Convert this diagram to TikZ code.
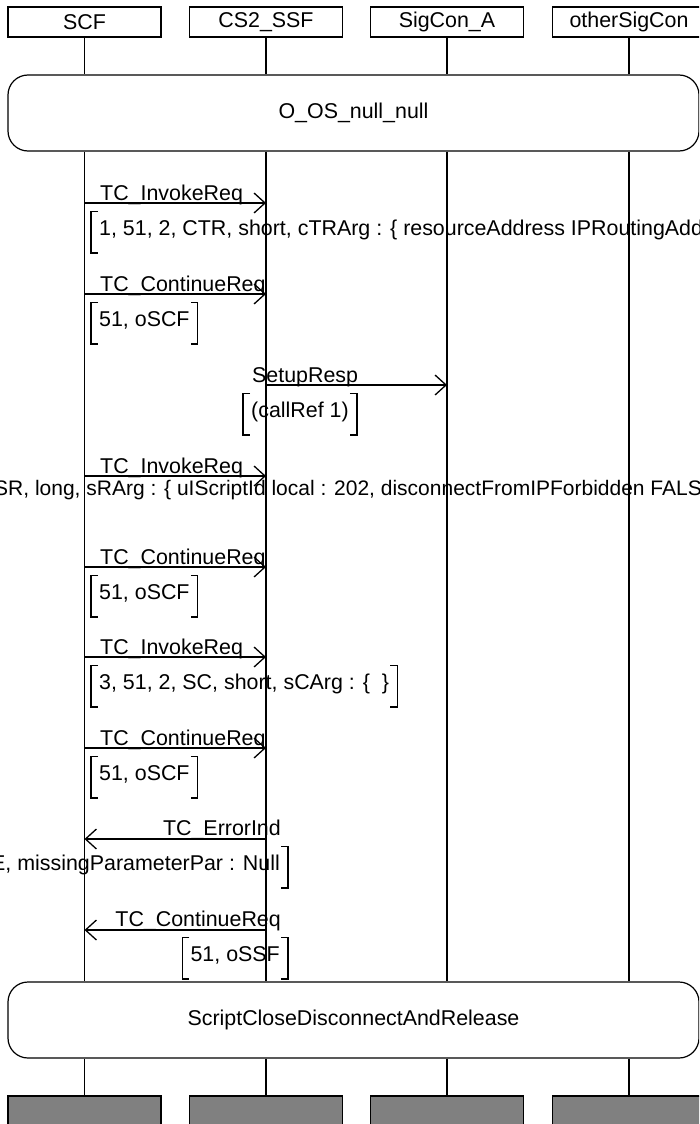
\documentclass[tikz,border=0pt]{standalone}
\usepackage{fontspec}
\setmainfont{Liberation Sans}
\usepackage{tikz}
\usetikzlibrary{arrows.meta}

\newcommand{\brackets}[1]{%
  \draw[line width=1.2pt] ([xshift=7pt]#1.north west) -- (#1.north west) -- (#1.south west) -- ([xshift=7pt]#1.south west);
  \draw[line width=1.2pt] ([xshift=-7pt]#1.north east) -- (#1.north east) -- (#1.south east) -- ([xshift=-7pt]#1.south east);}

\begin{document}
\begin{tikzpicture}[x=1pt,y=-1pt,font=\fontsize{21.4}{25}\selectfont]
\tikzstyle{inst}=[draw,line width=1.2pt,minimum width=153pt,minimum height=30pt,inner sep=0pt]
\tikzstyle{endbox}=[inst,fill=black!50]
\tikzstyle{cond}=[draw,line width=1.2pt,rounded corners=20pt,minimum width=691pt,minimum height=76pt]
\tikzstyle{life}=[line width=1.2pt]
\tikzstyle{msg}=[line width=1.3pt,-{Straight Barb[length=11pt,width=20pt]}]
\tikzstyle{lbl}=[inner sep=0pt]
\tikzstyle{params}=[inner xsep=8pt,inner ysep=0pt,text height=15pt,text depth=9pt,minimum height=41pt]

\useasboundingbox (0,0) rectangle (699,1124);
\clip (0,0) rectangle (699,1124);

\node[inst] (scf) at (84.5,22) {SCF};
\node[inst] (ssf) at (266,22) {CS2\_SSF};
\node[inst] (sca) at (447,22) {SigCon\_A};
\node[inst] (sco) at (629,22) {otherSigCon};

\node[cond] (start) at (353.5,113) {O\_OS\_null\_null};
\node[cond] (close) at (353.5,1020) {ScriptCloseDisconnectAndRelease};

\node[endbox] (scf-end) at (84.5,1111) {};
\node[endbox] (ssf-end) at (266,1111) {};
\node[endbox] (sca-end) at (447,1111) {};
\node[endbox] (sco-end) at (629,1111) {};

\draw[life] (scf) -- (scf |- start.north);
\draw[life] (ssf) -- (ssf |- start.north);
\draw[life] (sca) -- (sca |- start.north);
\draw[life] (sco) -- (sco |- start.north);
\draw[life] (scf |- start.south) -- (scf |- close.north);
\draw[life] (ssf |- start.south) -- (ssf |- close.north);
\draw[life] (sca |- start.south) -- (sca |- close.north);
\draw[life] (sco |- start.south) -- (sco |- close.north);
\draw[life] (scf |- close.south) -- (scf-end);
\draw[life] (ssf |- close.south) -- (ssf-end);
\draw[life] (sca |- close.south) -- (sca-end);
\draw[life] (sco |- close.south) -- (sco-end);

\draw[msg] (scf |- 0,203) -- (ssf |- 0,203);
\node[lbl,anchor=base west] (m1) at (100,200) {TC\_InvokeReq};
\node[params,anchor=north west] (p1) at (91,211.5) {1, 51, 2, CTR, short, cTRArg : \{ resourceAddress IPRoutingAdd};
\brackets{p1}

\draw[msg] (scf |- 0,294) -- (ssf |- 0,294);
\node[lbl,anchor=base west] (m2) at (100,291) {TC\_ContinueReq};
\node[params,anchor=north west] (p2) at (91,302.5) {51, oSCF};
\brackets{p2}

\draw[msg] (ssf |- 0,385) -- (sca |- 0,385);
\node[lbl,anchor=base west] (m3) at (252,382) {SetupResp};
\node[params,anchor=north west] (p3) at (243,393.5) {(callRef 1)};
\brackets{p3}

\draw[msg] (scf |- 0,476) -- (ssf |- 0,476);
\node[lbl,anchor=base west] (m4) at (100,473) {TC\_InvokeReq};
\node[lbl,anchor=base west,font=\fontsize{21}{25}\selectfont] (p4) at (-6,495) {SR, long, sRArg : \{ uIScriptId local : 202, disconnectFromIPForbidden FALS};

\draw[msg] (scf |- 0,567) -- (ssf |- 0,567);
\node[lbl,anchor=base west] (m5) at (100,564) {TC\_ContinueReq};
\node[params,anchor=north west] (p5) at (91,575.5) {51, oSCF};
\brackets{p5}

\draw[msg] (scf |- 0,657) -- (ssf |- 0,657);
\node[lbl,anchor=base west] (m6) at (100,654) {TC\_InvokeReq};
\node[params,anchor=north west] (p6) at (91,665.5) {3, 51, 2, SC, short, sCArg : \{~~\}};
\brackets{p6}

\draw[msg] (scf |- 0,748) -- (ssf |- 0,748);
\node[lbl,anchor=base west] (m7) at (100,745) {TC\_ContinueReq};
\node[params,anchor=north west] (p7) at (91,756.5) {51, oSCF};
\brackets{p7}

\draw[msg] (ssf |- 0,839) -- (scf |- 0,839);
\node[lbl,anchor=base east] (m8) at (281,835.5) {TC\_ErrorInd};
\node[params,anchor=north east] (p8) at (288,846.5) {E, missingParameterPar : Null};
\brackets{p8}

\draw[msg] (ssf |- 0,930) -- (scf |- 0,930);
\node[lbl,anchor=base east] (m9) at (281,926.5) {TC\_ContinueReq};
\node[params,anchor=north east] (p9) at (288,937.5) {51, oSSF};
\brackets{p9}
\end{tikzpicture}
\end{document}
